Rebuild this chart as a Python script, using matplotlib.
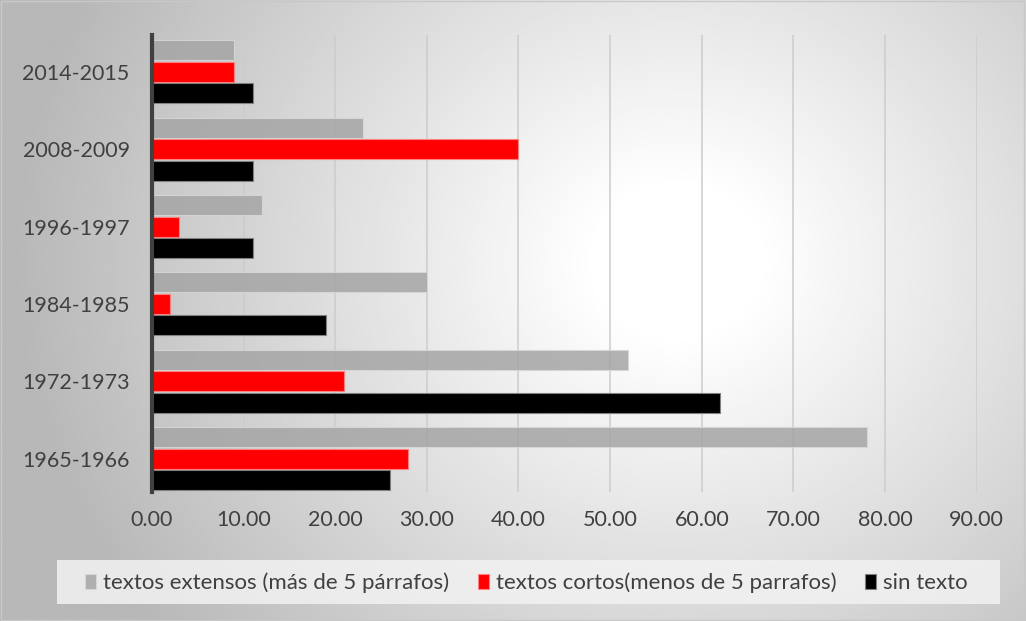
import numpy as np
import matplotlib
matplotlib.use('Agg')
import matplotlib.pyplot as plt
from matplotlib.patches import Rectangle
from matplotlib.ticker import FormatStrFormatter

# Datos
periodos = ['1965-1966', '1972-1973', '1984-1985', '1996-1997', '2008-2009', '2014-2015']
extensos = [78, 52, 30, 12, 23, 9]
cortos = [28, 21, 2, 3, 40, 9]
sin_texto = [26, 62, 19, 11, 11, 11]

etiquetas = ['textos extensos (más de 5 párrafos)',
             'textos cortos(menos de 5 parrafos)',
             'sin texto']

plt.rcParams['font.family'] = ['Lato', 'DejaVu Sans']
color_texto = '#404040'

fig = plt.figure(figsize=(10.26, 6.21), dpi=100)

# Fondo con degradado radial
bg = fig.add_axes([0, 0, 1, 1], zorder=-10)
xx, yy = np.meshgrid(np.linspace(0, 1, 400), np.linspace(0, 1, 300))
d = np.sqrt(((xx - 0.66) * 1.5) ** 2 + ((yy - 0.58) * 1.0) ** 2)
val = 1.0 - 0.28 * np.clip((d - 0.12) / 0.85, 0, 1)
bg.imshow(val, cmap='gray', vmin=0, vmax=1, extent=[0, 1, 0, 1],
          origin='lower', aspect='auto', interpolation='bilinear')
bg.add_patch(Rectangle((0.0005, 0.001), 0.998, 0.997, fill=False,
                       edgecolor='#c8c8c8', lw=1))
bg.set_xlim(0, 1)
bg.set_ylim(0, 1)
bg.axis('off')

ax = fig.add_axes([0.148, 0.208, 0.804, 0.736])
ax.patch.set_alpha(0)

y = np.arange(len(periodos))
h = 0.26
paso = 0.278
ax.barh(y + paso, extensos, height=h, color='#a5a5a5', alpha=0.85,
        edgecolor='#d8d8d8', linewidth=0.8, label=etiquetas[0], zorder=3)
ax.barh(y, cortos, height=h, color='#ff0000',
        edgecolor='#ff8080', linewidth=0.8, label=etiquetas[1], zorder=3)
ax.barh(y - paso, sin_texto, height=h, color='#000000',
        edgecolor='#808080', linewidth=0.8, label=etiquetas[2], zorder=3)

ax.set_xlim(0, 90)
ax.set_ylim(-0.43, 5.48)
ax.set_xticks(np.arange(0, 91, 10))
ax.xaxis.set_major_formatter(FormatStrFormatter('%.2f'))
ax.set_yticks(y)
ax.set_yticklabels(periodos)
ax.tick_params(axis='both', length=0, labelsize=15.5, labelcolor=color_texto)
ax.tick_params(axis='x', pad=13)
ax.tick_params(axis='y', pad=16)
ax.grid(axis='x', color='#cccccc', lw=1.1, zorder=1)
ax.set_axisbelow(True)
for s in ['top', 'right', 'bottom']:
    ax.spines[s].set_visible(False)
ax.spines['left'].set_color('#404040')
ax.spines['left'].set_linewidth(3)
ax.spines['left'].set_zorder(5)

# Leyenda con fondo gris claro
bg.add_patch(Rectangle((57 / 1026, 1 - 604 / 621), 943 / 1026, 44 / 621,
                       facecolor='#f2f2f2', alpha=0.85, edgecolor='none'))
handles, labels = ax.get_legend_handles_labels()
fig.legend(handles, labels, loc='center', bbox_to_anchor=(0.513, 1 - 583 / 621),
           ncol=3, frameon=False, fontsize=16, labelcolor=color_texto,
           handlelength=0.5, handleheight=0.6, handletextpad=0.3,
           columnspacing=1.3)

fig.savefig('out.png', dpi=100)
